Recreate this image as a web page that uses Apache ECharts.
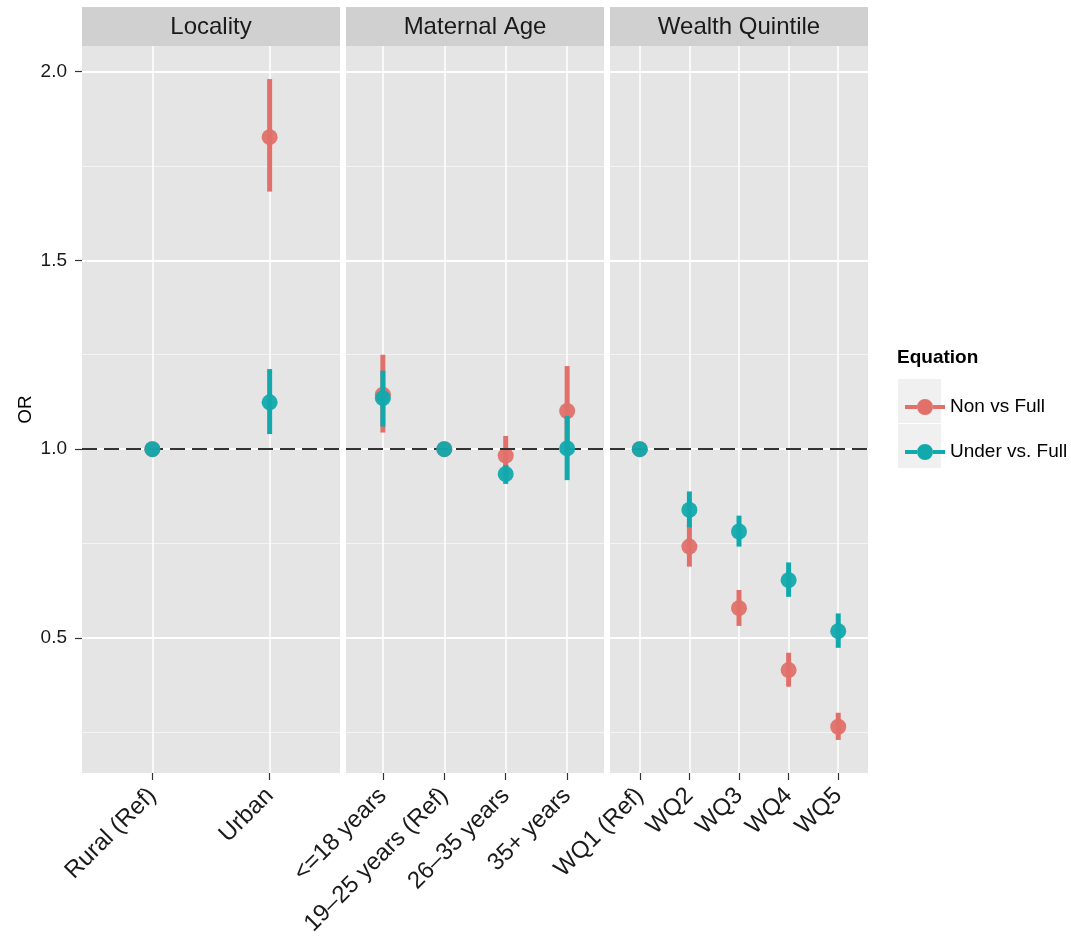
<!DOCTYPE html>
<html>
<head>
<meta charset="utf-8">
<script src="https://cdn.jsdelivr.net/npm/echarts@6.0.0/dist/echarts.min.js"></script>
<style>
  html, body { margin: 0; padding: 0; background: #ffffff; }
  #chart { width: 1071px; height: 947px; }
</style>
</head>
<body>
<div id="chart"></div>
<script>
// ---------- data ----------
const panelTitles = ['Locality', 'Maternal Age', 'Wealth Quintile'];
const localityCats = ['Rural (Ref)', 'Urban'];
const ageCats = ['<=18 years', '19–25 years (Ref)', '26–35 years', '35+ years'];
const wealthCats = ['WQ1 (Ref)', 'WQ2', 'WQ3', 'WQ4', 'WQ5'];

const seriesNames = ['Non vs Full', 'Under vs. Full'];

// Non vs Full
const nonLocalityOR = [1.0, 1.826];
const nonLocalityLo = [1.0, 1.682];
const nonLocalityHi = [1.0, 1.980];
const nonAgeOR = [1.144, 1.0, 0.983, 1.101];
const nonAgeLo = [1.044, 1.0, 0.930, 0.990];
const nonAgeHi = [1.250, 1.0, 1.035, 1.220];
const nonWealthOR = [1.0, 0.742, 0.579, 0.415, 0.265];
const nonWealthLo = [1.0, 0.689, 0.532, 0.371, 0.230];
const nonWealthHi = [1.0, 0.800, 0.627, 0.461, 0.302];

// Under vs. Full
const underLocalityOR = [1.0, 1.124];
const underLocalityLo = [1.0, 1.040];
const underLocalityHi = [1.0, 1.212];
const underAgeOR = [1.135, 1.0, 0.934, 1.002];
const underAgeLo = [1.060, 1.0, 0.908, 0.918];
const underAgeHi = [1.208, 1.0, 0.958, 1.088];
const underWealthOR = [1.0, 0.839, 0.782, 0.653, 0.518];
const underWealthLo = [1.0, 0.793, 0.742, 0.609, 0.474];
const underWealthHi = [1.0, 0.888, 0.824, 0.700, 0.565];

const yMajorTicks = [0.5, 1.0, 1.5, 2.0];
const yMinorTicks = [0.25, 0.75, 1.25, 1.75];
const refLineValue = 1.0;
const yMin = 0.1425, yMax = 2.0675;

// ---------- styling / layout ----------
const FONT = 'Liberation Sans, Arial, sans-serif';
const colors = ['#E2706A', '#12A9AD'];
const panelLeft = [82, 346, 610];
const panelWidth = 258;
const panelTop = 46;
const panelHeight = 727;

const panels = [
  { cats: localityCats, non: [nonLocalityOR, nonLocalityLo, nonLocalityHi], under: [underLocalityOR, underLocalityLo, underLocalityHi] },
  { cats: ageCats, non: [nonAgeOR, nonAgeLo, nonAgeHi], under: [underAgeOR, underAgeLo, underAgeHi] },
  { cats: wealthCats, non: [nonWealthOR, nonWealthLo, nonWealthHi], under: [underWealthOR, underWealthLo, underWealthHi] }
];

const grids = [], xAxes = [], yAxes = [], series = [], graphics = [];

function errorBarRender(params, api) {
  const x = api.value(0);
  const p1 = api.coord([x, api.value(1)]);
  const p2 = api.coord([x, api.value(2)]);
  return {
    type: 'line',
    shape: { x1: p1[0], y1: p1[1], x2: p2[0], y2: p2[1] },
    style: { stroke: api.visual('color'), lineWidth: 5, lineCap: 'butt' }
  };
}

panels.forEach((p, i) => {
  const n = p.cats.length;
  const idx = p.cats.map((c, k) => k);
  grids.push({
    left: panelLeft[i], top: panelTop, width: panelWidth, height: panelHeight,
    show: true, backgroundColor: '#E5E5E5', borderWidth: 0
  });
  xAxes.push({
    type: 'value', gridIndex: i, min: -0.6, max: n - 1 + 0.6,
    axisLine: { show: false, onZero: false },
    axisTick: { show: true, customValues: idx, length: 7, lineStyle: { color: '#333', width: 1.2 } },
    axisLabel: {
      show: true, customValues: idx, rotate: 45, margin: 19,
      formatter: v => p.cats[Math.round(v)],
      fontFamily: FONT, fontSize: 24, color: '#1a1a1a'
    },
    splitLine: { show: true, lineStyle: { color: '#ffffff', width: 1.5 } }
  });
  // major y axis
  yAxes.push({
    type: 'value', gridIndex: i, min: yMin, max: yMax,
    name: i === 0 ? 'OR' : '', nameLocation: 'middle', nameGap: 47, nameRotate: 90,
    nameTextStyle: { fontFamily: FONT, fontSize: 19, color: '#000' },
    axisLine: { show: false, onZero: false },
    axisTick: { show: i === 0, customValues: yMajorTicks, length: 7, lineStyle: { color: '#333', width: 1.2 } },
    axisLabel: {
      show: i === 0, customValues: yMajorTicks, margin: 15,
      formatter: v => v.toFixed(1), fontFamily: FONT, fontSize: 19, color: '#1a1a1a'
    },
    splitLine: { show: true, lineStyle: { color: '#ffffff', width: 2 } }
  });
  // minor y axis (gridlines only)
  yAxes.push({
    type: 'value', gridIndex: i, min: yMin, max: yMax, position: 'left',
    axisLine: { show: false, onZero: false },
    axisTick: { show: false, customValues: yMinorTicks },
    axisLabel: { show: false, customValues: yMinorTicks },
    splitLine: { show: true, lineStyle: { color: '#F4F4F4', width: 1.2 } }
  });

  const groups = [p.non, p.under];
  groups.forEach((g, gi) => {
    const bars = idx.map(k => [k, g[1][k], g[2][k]]);
    const pts = idx.map(k => [k, g[0][k]]);
    series.push({
      type: 'custom', name: seriesNames[gi], xAxisIndex: i, yAxisIndex: i * 2,
      renderItem: errorBarRender, data: bars, z: 3 + gi * 2,
      itemStyle: { color: colors[gi] }, silent: true
    });
    series.push({
      type: 'scatter', name: seriesNames[gi], xAxisIndex: i, yAxisIndex: i * 2,
      data: pts, symbol: 'circle', symbolSize: 16, z: 4 + gi * 2,
      itemStyle: { color: colors[gi], opacity: 0.95 }, silent: true
    });
  });
  // dashed reference line
  series.push({
    type: 'line', name: 'ref' + i, xAxisIndex: i, yAxisIndex: i * 2, data: [], z: 10,
    markLine: {
      silent: true, symbol: 'none', label: { show: false },
      lineStyle: { color: '#333333', type: [15, 7], width: 1.8 },
      data: [{ yAxis: refLineValue }]
    }
  });

  // facet strip
  graphics.push({
    type: 'rect', left: panelLeft[i], top: 7,
    shape: { width: panelWidth, height: 39 },
    style: { fill: '#D0D0D0' }, silent: true
  });
  graphics.push({
    type: 'text', x: panelLeft[i] + panelWidth / 2, y: 27,
    style: {
      text: panelTitles[i], fill: '#1a1a1a', font: '24px ' + FONT,
      textAlign: 'center', textVerticalAlign: 'middle'
    }, silent: true
  });
});

// legend title and key backgrounds
graphics.push({
  type: 'text', x: 897, y: 358,
  style: { text: 'Equation', fill: '#000', font: 'bold 19px ' + FONT, textVerticalAlign: 'middle' }, silent: true
});
graphics.push({ type: 'rect', left: 898, top: 379, shape: { width: 43, height: 44 }, style: { fill: '#F0F0F0' }, silent: true, z: -1 });
graphics.push({ type: 'rect', left: 898, top: 424, shape: { width: 43, height: 44 }, style: { fill: '#F0F0F0' }, silent: true, z: -1 });

const keyIcon = 'path://M0 6 h12 v4 h-12 Z M28 6 h12 v4 h-12 Z M12 8 a8 8 0 1 0 16 0 a8 8 0 1 0 -16 0 Z';

const option = {
  animation: false,
  backgroundColor: '#ffffff',
  textStyle: { fontFamily: FONT },
  grid: grids,
  xAxis: xAxes,
  yAxis: yAxes,
  legend: {
    orient: 'vertical', left: 900, top: 391,
    itemWidth: 40, itemHeight: 16, itemGap: 23,
    selectedMode: false,
    textStyle: { fontFamily: FONT, fontSize: 19, color: '#000', lineHeight: 22 },
    data: seriesNames.map(n => ({ name: n, icon: keyIcon }))
  },
  graphic: graphics,
  series: series
};

const chart = echarts.init(document.getElementById('chart'), null, { renderer: 'canvas' });
chart.setOption(option);
</script>
</body>
</html>
